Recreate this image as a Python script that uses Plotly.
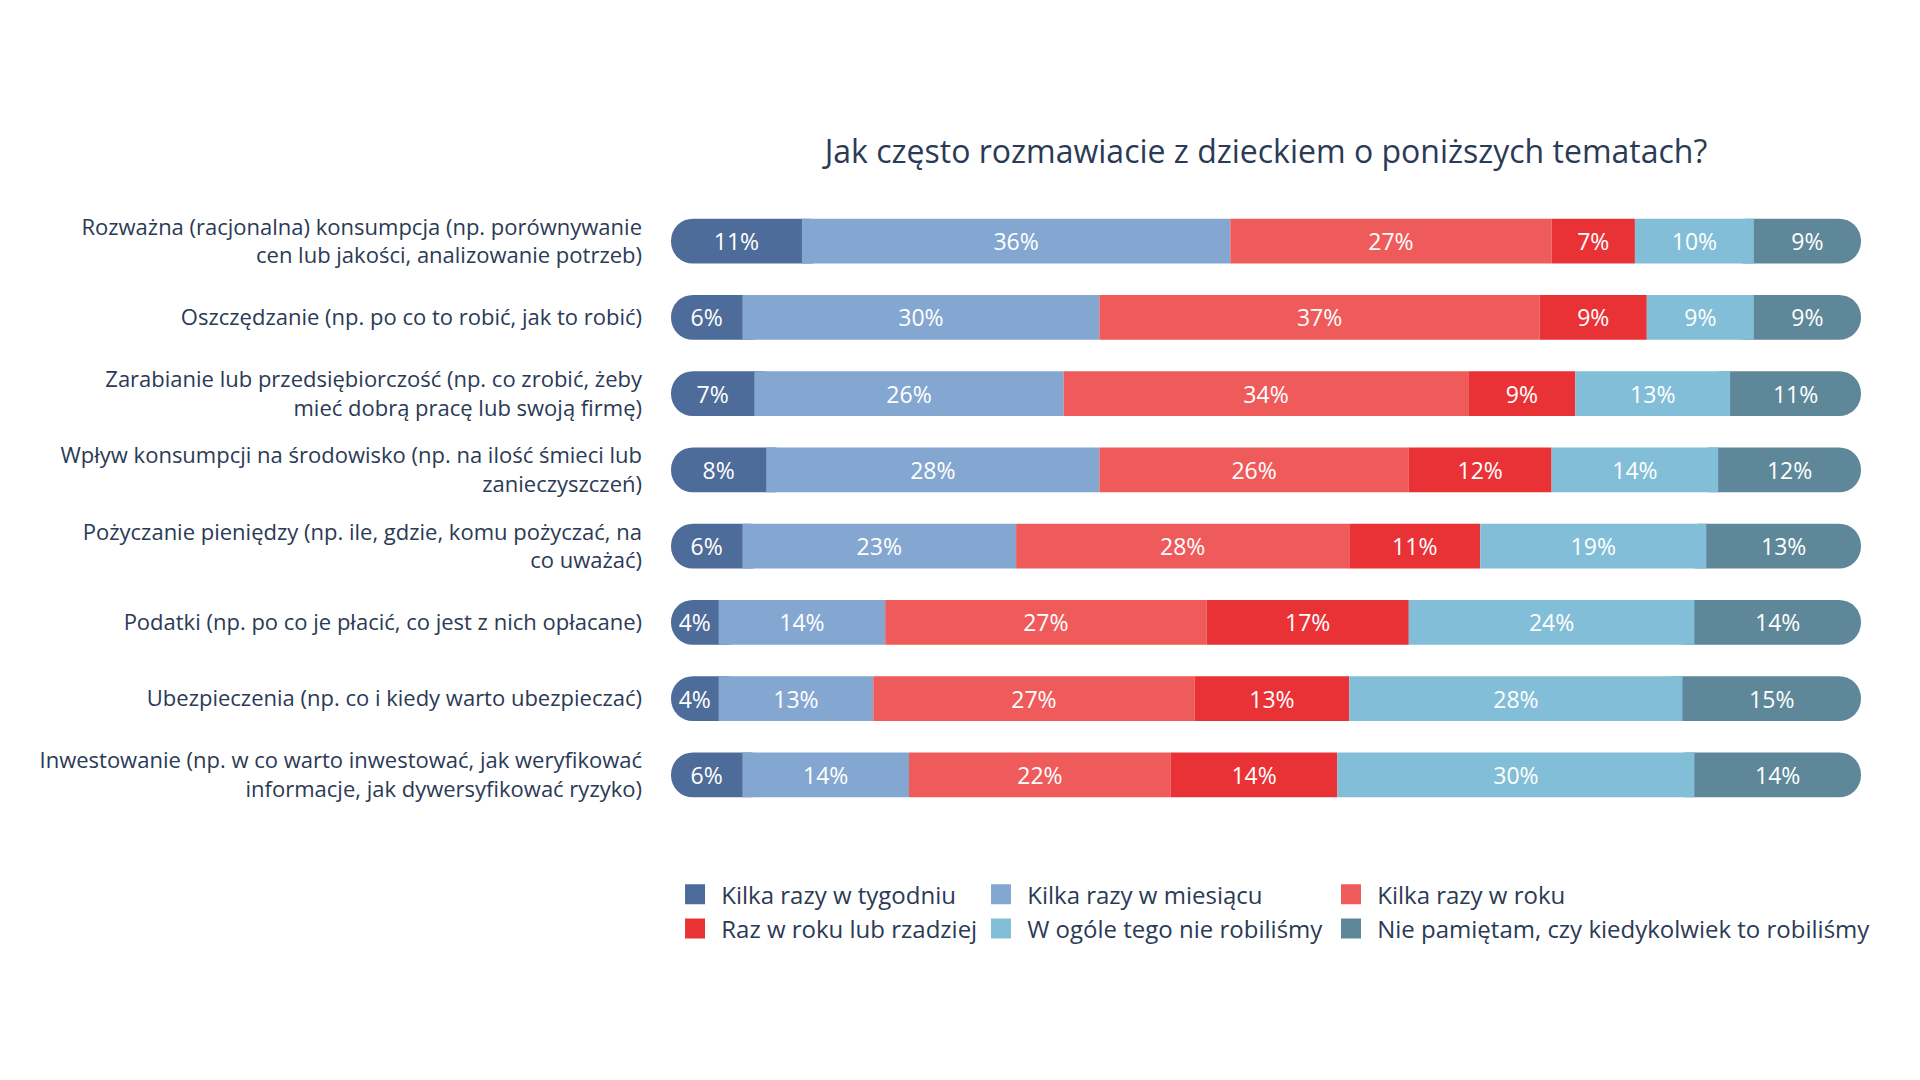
import plotly.graph_objects as go

categories = [
    "Rozważna (racjonalna) konsumpcja (np. porównywanie<br>cen lub jakości, analizowanie potrzeb)",
    "Oszczędzanie (np. po co to robić, jak to robić)",
    "Zarabianie lub przedsiębiorczość (np. co zrobić, żeby<br>mieć dobrą pracę lub swoją firmę)",
    "Wpływ konsumpcji na środowisko (np. na ilość śmieci lub<br>zanieczyszczeń)",
    "Pożyczanie pieniędzy (np. ile, gdzie, komu pożyczać, na<br>co uważać)",
    "Podatki (np. po co je płacić, co jest z nich opłacane)",
    "Ubezpieczenia (np. co i kiedy warto ubezpieczać)",
    "Inwestowanie (np. w co warto inwestować, jak weryfikować<br>informacje, jak dywersyfikować ryzyko)",
]

series_names = [
    "Kilka razy w tygodniu",
    "Kilka razy w miesiącu",
    "Kilka razy w roku",
    "Raz w roku lub rzadziej",
    "W ogóle tego nie robiliśmy",
    "Nie pamiętam, czy kiedykolwiek to robiliśmy",
]

weekly = [11, 6, 7, 8, 6, 4, 4, 6]
monthly = [36, 30, 26, 28, 23, 14, 13, 14]
yearly = [27, 37, 34, 26, 28, 27, 27, 22]
rarely = [7, 9, 9, 12, 11, 17, 13, 14]
never = [10, 9, 13, 14, 19, 24, 28, 30]
dont_remember = [9, 9, 11, 12, 13, 14, 15, 14]

colors = ["#4E6C99", "#84A7D1", "#EF5B5A", "#E93236", "#82BED7", "#5E8899"]

series_values = [weekly, monthly, yearly, rarely, never, dont_remember]

FONT = "Open Sans"
NAVY = "#2B3A55"
BAR_W = 0.59
RADIUS = 22
EXT = 2.5  # hidden overlap (axis units) so pill ends tuck under neighbours

fig = go.Figure()

# cumulative starts of each segment
starts_all = []
acc = [0] * len(categories)
for vals in series_values:
    starts_all.append(list(acc))
    acc = [a + v for a, v in zip(acc, vals)]

n = len(series_values)

# 1) end pills (rounded both sides), drawn first, extended under neighbours
first_vals = series_values[0]
last_vals = series_values[-1]
fig.add_trace(go.Bar(
    y=categories, x=[v + EXT for v in first_vals], base=[0] * len(categories),
    orientation="h", width=BAR_W, showlegend=False, hoverinfo="skip",
    marker=dict(color=colors[0], line=dict(width=0), cornerradius=RADIUS),
))
fig.add_trace(go.Bar(
    y=categories, x=[v + EXT for v in last_vals],
    base=[s - EXT for s in starts_all[-1]],
    orientation="h", width=BAR_W, showlegend=False, hoverinfo="skip",
    marker=dict(color=colors[-1], line=dict(width=0), cornerradius=RADIUS),
))

# 2) middle rectangles, 3) transparent label carriers for the end segments
for i, (name, vals, col) in enumerate(zip(series_names, series_values, colors)):
    is_end = i in (0, n - 1)
    fig.add_trace(go.Bar(
        y=categories, x=vals, base=starts_all[i], orientation="h",
        name=name, showlegend=False, width=BAR_W,
        marker=dict(color="rgba(0,0,0,0)" if is_end else col, line=dict(width=0)),
        text=[f"{v}%" for v in vals], texttemplate="%{text}",
        textposition="inside", insidetextanchor="middle",
        textangle=0, constraintext="none",
        textfont=dict(color="white", size=23, family=FONT),
        hovertemplate=name + ": %{text}<extra></extra>",
    ))

# legend: three vertical legends acting as columns
col_of = {0: "legend", 3: "legend", 1: "legend2", 4: "legend2", 2: "legend3", 5: "legend3"}
for idx in [0, 3, 1, 4, 2, 5]:
    fig.add_trace(go.Scatter(
        x=[None], y=[None], mode="markers", name="\u00a0" + series_names[idx],
        marker=dict(symbol="square", size=16, color=colors[idx],
                    line=dict(width=4, color=colors[idx])),
        showlegend=True, legend=col_of[idx],
    ))

legend_common = dict(
    orientation="v", xanchor="left", y=-0.097, yanchor="top",
    font=dict(size=24, color=NAVY, family=FONT),
    traceorder="normal", itemclick=False, itemdoubleclick=False,
    bgcolor="rgba(0,0,0,0)",
)

fig.update_layout(
    width=1920, height=1080,
    barmode="overlay",
    paper_bgcolor="white", plot_bgcolor="white",
    margin=dict(l=671, r=59, t=203, b=267),
    font=dict(family=FONT, color=NAVY, size=22),
    title=dict(
        text="Jak często rozmawiacie z dzieckiem o poniższych tematach?",
        x=0.5, xref="paper", xanchor="center",
        y=1 - 152 / 1080, yref="container", yanchor="middle",
        font=dict(size=32, color=NAVY, family=FONT),
    ),
    xaxis=dict(visible=False, range=[0, 100], fixedrange=True),
    yaxis=dict(
        categoryorder="array", categoryarray=categories,
        autorange="reversed",
        showgrid=False, zeroline=False, showline=False,
        ticks="", ticklabelstandoff=28,
        tickfont=dict(size=22, color=NAVY, family=FONT),
    ),
    legend=dict(x=0.0034, **legend_common),
    legend2=dict(x=0.2605, **legend_common),
    legend3=dict(x=0.5546, **legend_common),
)

fig.write_html("out.html")
